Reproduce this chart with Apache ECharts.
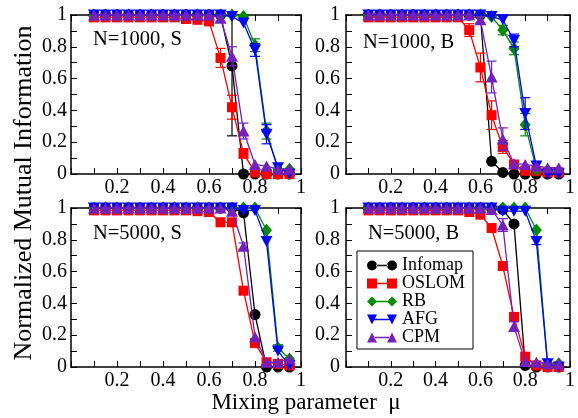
<!DOCTYPE html>
<html><head><meta charset="utf-8">
<script src="https://cdn.jsdelivr.net/npm/echarts@6/dist/echarts.min.js"></script>
<style>html,body{margin:0;padding:0;background:#fff}#c{width:578px;height:418px}</style>
</head><body><div id="c"></div>
<script>
// ---------------- data ----------------
const mu = [0.1,0.15,0.2,0.25,0.3,0.35,0.4,0.45,0.5,0.55,0.6,0.65,0.7,0.75,0.8,0.85,0.9,0.95];
const xTickLabels = ['0.2','0.4','0.6','0.8','1'];
const yTickLabels = ['0','0.2','0.4','0.6','0.8','1'];
const methods = ['Infomap','OSLOM','RB','AFG','CPM'];
const panelLabels = ['N=1000, S','N=1000, B','N=5000, S','N=5000, B'];
const xTitle = 'Mixing parameter  \u03bc';
const yTitle = 'Normalized Mutual Information';

// N=1000, S
const s1000Infomap = [1,1,1,1,1,1,1,1,1,1,1,1,0.68,0,0,0,0,0];
const s1000Oslom   = [0.985,0.985,0.985,0.985,0.985,0.985,0.985,0.985,0.975,0.97,0.96,0.73,0.42,0.13,0.01,0,0,0];
const s1000Rb      = [1,1,1,1,1,1,1,1,1,1,1,1,1,0.99,0.81,0.27,0.03,0.03];
const s1000Afg     = [1,1,1,1,1,1,1,1,1,1,1,1,0.99,0.95,0.78,0.25,0.04,0];
const s1000Cpm     = [1,1,1,1,1,1,1,1,1,1,1,0.98,0.74,0.27,0.06,0.05,0.03,0.03];
const s1000InfomapErr = [0,0,0,0,0,0,0,0,0,0,0,0,0.44,0,0,0,0,0];
const s1000OslomErr   = [0,0,0,0,0,0,0,0,0,0,0,0.06,0.075,0.03,0,0,0,0];
const s1000RbErr      = [0,0,0,0,0,0,0,0,0,0,0,0,0,0,0.04,0.05,0,0];
const s1000AfgErr     = [0,0,0,0,0,0,0,0,0,0,0,0,0,0,0.04,0.06,0,0];
const s1000CpmErr     = [0,0,0,0,0,0,0,0,0,0,0,0.02,0.06,0.05,0,0,0,0];
// N=1000, B
const b1000Infomap = [1,1,1,1,1,1,1,1,1,1,1,0.08,0.01,0,0,0,0,0];
const b1000Oslom   = [0.985,0.985,0.985,0.985,0.985,0.985,0.985,0.985,0.985,0.905,0.67,0.37,0.17,0.06,0.02,0.02,0.01,0.01];
const b1000Rb      = [1,1,1,1,1,1,1,1,1,1,1,0.99,0.905,0.79,0.31,0.03,0.02,0.02];
const b1000Afg     = [1,1,1,1,1,1,1,1,1,1,1,0.99,0.97,0.84,0.38,0.05,0,0];
const b1000Cpm     = [1,1,1,1,1,1,1,1,1,1,0.97,0.61,0.22,0.065,0.06,0.05,0.04,0.04];
const b1000InfomapErr = [0,0,0,0,0,0,0,0,0,0,0,0,0,0,0,0,0,0];
const b1000OslomErr   = [0,0,0,0,0,0,0,0,0,0.04,0.09,0.09,0.04,0.02,0,0,0,0];
const b1000RbErr      = [0,0,0,0,0,0,0,0,0,0,0,0,0.03,0.04,0.07,0,0,0];
const b1000AfgErr     = [0,0,0,0,0,0,0,0,0,0,0,0,0,0.04,0.1,0,0,0];
const b1000CpmErr     = [0,0,0,0,0,0,0,0,0,0,0.02,0.1,0.07,0,0,0,0,0];
// N=5000, S
const s5000Infomap = [1,1,1,1,1,1,1,1,1,1,1,1,1,0.97,0.33,0,0,0];
const s5000Oslom   = [0.985,0.985,0.985,0.985,0.985,0.985,0.985,0.985,0.985,0.98,0.975,0.91,0.91,0.48,0.15,0.03,0.02,0.01];
const s5000Rb      = [1,1,1,1,1,1,1,1,1,1,1,1,1,1,1,0.86,0.12,0.05];
const s5000Afg     = [1,1,1,1,1,1,1,1,1,1,1,1,1,0.985,0.985,0.79,0.1,0.01];
const s5000Cpm     = [1,1,1,1,1,1,1,1,1,1,1,1,0.98,0.76,0.19,0.03,0.03,0.05];
const s5000InfomapErr = [0,0,0,0,0,0,0,0,0,0,0,0,0,0,0,0,0,0];
const s5000OslomErr   = [0,0,0,0,0,0,0,0,0,0,0,0,0,0,0,0,0,0];
const s5000RbErr      = [0,0,0,0,0,0,0,0,0,0,0,0,0,0,0,0,0.02,0];
const s5000AfgErr     = [0,0,0,0,0,0,0,0,0,0,0,0,0,0,0,0,0,0];
const s5000CpmErr     = [0,0,0,0,0,0,0,0,0,0,0,0,0,0.02,0,0,0,0];
// N=5000, B
const b5000Infomap = [1,1,1,1,1,1,1,1,1,1,1,1,0.99,0.9,0.01,0,0,0];
const b5000Oslom   = [0.985,0.985,0.985,0.985,0.985,0.985,0.985,0.985,0.985,0.975,0.958,0.874,0.635,0.315,0.065,0.01,0,0];
const b5000Rb      = [1,1,1,1,1,1,1,1,1,1,1,1,1,1,1,0.862,0.02,0.02];
const b5000Afg     = [1,1,1,1,1,1,1,1,1,1,1,1,0.98,0.98,0.98,0.79,0.02,0];
const b5000Cpm     = [1,1,1,1,1,1,1,1,1,1,1,0.99,0.893,0.254,0.034,0.03,0.02,0.02];
const b5000InfomapErr = [0,0,0,0,0,0,0,0,0,0,0,0,0,0,0,0,0,0];
const b5000OslomErr   = [0,0,0,0,0,0,0,0,0,0,0,0,0,0,0,0,0,0];
const b5000RbErr      = [0,0,0,0,0,0,0,0,0,0,0,0,0,0,0,0,0,0];
const b5000AfgErr     = [0,0,0,0,0,0,0,0,0,0,0,0,0,0,0,0.02,0,0];
const b5000CpmErr     = [0,0,0,0,0,0,0,0,0,0,0,0,0.04,0.03,0,0,0,0];

const panelValues = [
  [s1000Infomap,s1000Oslom,s1000Rb,s1000Afg,s1000Cpm],
  [b1000Infomap,b1000Oslom,b1000Rb,b1000Afg,b1000Cpm],
  [s5000Infomap,s5000Oslom,s5000Rb,s5000Afg,s5000Cpm],
  [b5000Infomap,b5000Oslom,b5000Rb,b5000Afg,b5000Cpm]
];
const panelErrors = [
  [s1000InfomapErr,s1000OslomErr,s1000RbErr,s1000AfgErr,s1000CpmErr],
  [b1000InfomapErr,b1000OslomErr,b1000RbErr,b1000AfgErr,b1000CpmErr],
  [s5000InfomapErr,s5000OslomErr,s5000RbErr,s5000AfgErr,s5000CpmErr],
  [b5000InfomapErr,b5000OslomErr,b5000RbErr,b5000AfgErr,b5000CpmErr]
];

// ---------------- style ----------------
const FONT = "'Liberation Serif','Times New Roman',serif";
const colors = ['#000000','#ff0000','#008b00','#0000ff','#7221bc'];
const symbols = ['circle','rect','diamond','triangle','triangle'];
const symbolSizes = [11,10,[11,13],[12,11],[12,11]];
const symbolRotates = [0,0,0,180,0];
const legendIcons = [
  'path://M0,5a5,5 0 1,0 10,0a5,5 0 1,0 -10,0z M20,5a5,5 0 1,0 10,0a5,5 0 1,0 -10,0z M9,4.3h12v1.4h-12z',
  'path://M0,0h10v10h-10z M20,0h10v10h-10z M9,4.3h12v1.4h-12z',
  'path://M0,5L5,0L10,5L5,10z M20,5L25,0L30,5L25,10z M9,4.3h12v1.4h-12z',
  'path://M0,0h10L5,10z M20,0h10L25,10z M7,4.3h16v1.4h-16z',
  'path://M0,10h10L5,0z M20,10h10L25,0z M7,4.3h16v1.4h-16z'
];
const grids = [
  {left:71, top:15, width:230, height:159},
  {left:346, top:15, width:231, height:159},
  {left:71, top:208, width:230, height:159},
  {left:346, top:208, width:231, height:159}
];
const labelPos = [[93,40],[363,43],[93,233.5],[368,233.5]];

function fmt(list){ return v => { const s = String(+v.toFixed(2)); return list.indexOf(s) >= 0 ? s : ''; }; }
function axisCommon(){
  return {
    axisLine:{show:true,onZero:false,lineStyle:{color:'#000',width:1.5}},
    axisTick:{show:true,inside:true,length:6,lineStyle:{color:'#000',width:1}},
    minorTick:{show:true,splitNumber:2,length:6,lineStyle:{color:'#000',width:1}},
    splitLine:{show:false}, minorSplitLine:{show:false}
  };
}
const xAxes = [], yAxes = [], series = [];
grids.forEach((g,gi)=>{
  ['bottom','top'].forEach(pos=>{
    xAxes.push(Object.assign(axisCommon(),{type:'value',gridIndex:gi,position:pos,min:0,max:1,interval:0.2,
      axisLabel:{show:pos==='bottom',margin:4,fontSize:20,fontFamily:FONT,color:'#000',formatter:fmt(xTickLabels)}}));
  });
  ['left','right'].forEach(pos=>{
    yAxes.push(Object.assign(axisCommon(),{type:'value',gridIndex:gi,position:pos,min:0,max:1,interval:0.2,
      axisLabel:{show:pos==='left',margin:gi%2===0?4:6,fontSize:20,fontFamily:FONT,color:'#000',formatter:fmt(yTickLabels)}}));
  });
  methods.forEach((m,mi)=>{
    const vals = panelValues[gi][mi], errs = panelErrors[gi][mi];
    const errData = [];
    mu.forEach((x,i)=>{ if(errs[i]>0) errData.push([x,vals[i],errs[i]]); });
    if (errData.length) series.push({
      type:'custom', name:'err'+gi+mi, xAxisIndex:2*gi, yAxisIndex:2*gi, silent:true, z:2+mi*2, clip:false,
      data: errData,
      renderItem:(params,api)=>{
        const x=api.value(0), y=api.value(1), e=api.value(2);
        const lo=Math.max(0,y-e), hi=Math.min(1,y+e);
        const p1=api.coord([x,lo]), p2=api.coord([x,hi]);
        const st={stroke:colors[mi],lineWidth:1.2};
        const ch=[{type:'line',shape:{x1:p1[0],y1:p1[1],x2:p2[0],y2:p2[1]},style:st}];
        if (y-e>=0) ch.push({type:'line',shape:{x1:p1[0]-5,y1:p1[1],x2:p1[0]+5,y2:p1[1]},style:st});
        if (y+e<=1) ch.push({type:'line',shape:{x1:p2[0]-5,y1:p2[1],x2:p2[0]+5,y2:p2[1]},style:st});
        return {type:'group',children:ch};
      }
    });
    series.push({
      type:'line', name:m, xAxisIndex:2*gi, yAxisIndex:2*gi,
      data: mu.map((x,i)=>[x,vals[i]]),
      symbol:symbols[mi], symbolSize:symbolSizes[mi], symbolRotate:symbolRotates[mi],
      showSymbol:true, showAllSymbol:true, clip:false, z:3+mi*2,
      itemStyle:{color:colors[mi],borderWidth:0},
      lineStyle:{color:colors[mi],width:1.3},
      emphasis:{disabled:true}
    });
  });
});

const graphic = panelLabels.map((t,i)=>({type:'text',x:labelPos[i][0],y:labelPos[i][1],
  style:{text:t,font:'20.5px '+FONT,fill:'#000',textAlign:'left',textVerticalAlign:'middle'}}));
graphic.push({type:'text',x:24,y:193,rotation:Math.PI/2,
  style:{text:yTitle,font:'26px '+FONT,fill:'#000',textAlign:'center',textVerticalAlign:'middle'}});
graphic.push({type:'text',x:306,y:403,
  style:{text:xTitle,font:'23px '+FONT,fill:'#000',textAlign:'center',textVerticalAlign:'middle'}});

const chart = echarts.init(document.getElementById('c'),null,{renderer:'canvas'});
chart.setOption({
  animation:false,
  backgroundColor:'#fff',
  grid: grids.map(g=>Object.assign({containLabel:false},g)),
  xAxis:xAxes, yAxis:yAxes, series:series, graphic:graphic,
  legend:{
    show:true, orient:'vertical', left:357, top:251,
    data: methods.map((m,i)=>({name:m,icon:legendIcons[i]})),
    itemWidth:30, itemHeight:10, itemGap:0, selectedMode:false,
    padding:[5.5,8,2.5,10], borderColor:'#000', borderWidth:1, backgroundColor:'#fff',
    textStyle:{fontSize:18,fontFamily:FONT,color:'#000',lineHeight:17.7}
  }
});
</script></body></html>
